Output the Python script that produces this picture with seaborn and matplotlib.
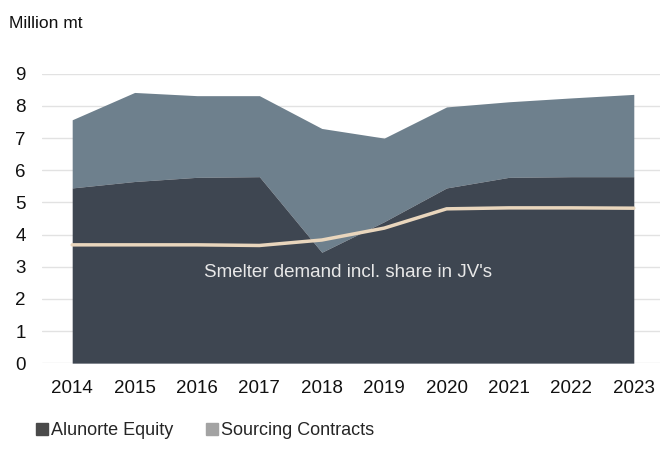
import matplotlib
matplotlib.use("Agg")
import matplotlib.pyplot as plt
from matplotlib.patches import Patch
import seaborn as sns
import pandas as pd

years = [2014, 2015, 2016, 2017, 2018, 2019, 2020, 2021, 2022, 2023]
alunorte_equity = [5.45, 5.65, 5.78, 5.8, 3.45, 4.4, 5.45, 5.78, 5.8, 5.8]
total_supply = [7.57, 8.42, 8.32, 8.32, 7.3, 7.0, 7.97, 8.13, 8.25, 8.36]
smelter_demand = [3.68, 3.68, 3.68, 3.66, 3.83, 4.2, 4.8, 4.83, 4.83, 4.82]

df = pd.DataFrame({"year": years, "equity": alunorte_equity,
                   "total": total_supply, "smelter": smelter_demand})

sns.set_theme(style="white")
plt.rcParams['font.family'] = ['Liberation Sans', 'DejaVu Sans']

dark = "#3e4651"
grey = "#6e808d"
beige = "#e9d6bd"

fig = plt.figure(figsize=(6.6, 4.5), dpi=100)
ax = fig.add_axes([0.064, 0.193, 0.936, 0.643])

ax.fill_between(df["year"], df["equity"], df["total"], color=grey, linewidth=0, zorder=2)
ax.fill_between(df["year"], 0, df["equity"], color=dark, linewidth=0, zorder=3)
sns.lineplot(data=df, x="year", y="smelter", color=beige, linewidth=2.5, ax=ax, zorder=4)

ax.text(2018.42, 2.83, "Smelter demand incl. share in JV's", color="#e8e8e8",
        fontsize=13.5, ha="center", va="center", zorder=5)

ax.set_xlim(2013.52, 2023.42)
ax.set_ylim(0, 9)
ax.set_yticks(range(0, 10))
ax.set_xticks(years)
ax.grid(axis="y", color="#e2e2e2", linewidth=1, zorder=0)
ax.set_axisbelow(True)
for s in ax.spines.values():
    s.set_visible(False)
ax.tick_params(axis="both", labelsize=13.5, colors="#111111", length=0)
ax.tick_params(axis="y", pad=12)
ax.tick_params(axis="x", pad=12)
ax.set_xlabel("")
ax.set_ylabel("")

fig.text(0.013, 0.948, "Million mt", fontsize=12.5, color="#111111", va="center")

handles = [Patch(color="#4a4a4a", label="Alunorte Equity"),
           Patch(color="#a3a3a3", label="Sourcing Contracts")]
fig.legend(handles=handles, loc="lower left", bbox_to_anchor=(0.03, -0.012), ncol=2,
           frameon=False, fontsize=13, handlelength=0.65, handleheight=0.65,
           handletextpad=0.2, columnspacing=1.8)

fig.savefig("out.png", dpi=100)
